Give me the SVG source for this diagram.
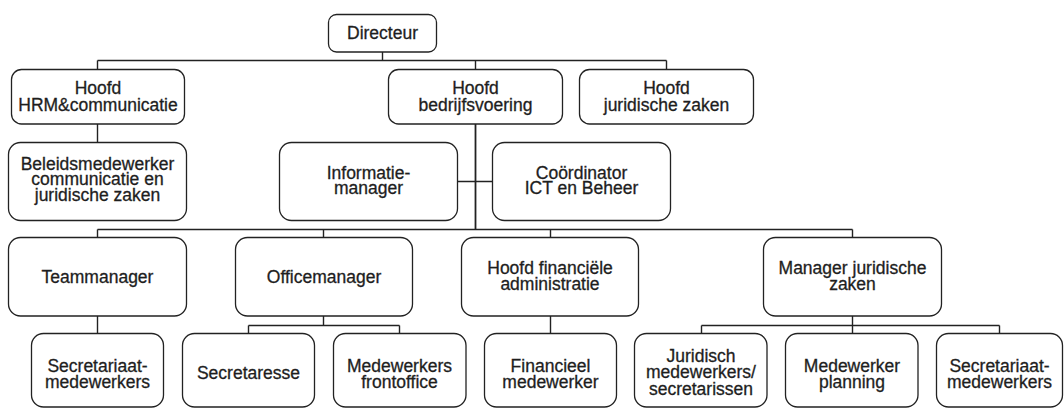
<svg xmlns="http://www.w3.org/2000/svg" width="1064" height="408" viewBox="0 0 1064 408">
  <style>
    .box { fill: #ffffff; stroke: #222222; stroke-width: 1.3; }
    .lbl { font-family: "Liberation Sans", Arial, sans-serif; font-size: 17.5px; fill: #1e1e1e; stroke: #1e1e1e; stroke-width: 0.3; text-anchor: middle; }
    .conn { fill: none; stroke: #222222; stroke-width: 1.4; }
  </style>
  <rect width="1064" height="408" fill="#ffffff"/>

  <g id="connectors" class="conn">
    <path d="M382.5 52 V60.5 M97.5 60.5 H666.5 M97.5 60.5 V69 M475.5 60.5 V69 M666.5 60.5 V69"/>
    <path d="M97.5 124 V142"/>
    <path d="M475.5 124 V229.5" stroke-width="1.8"/>
    <path d="M457 181.5 H492"/>
    <path d="M97.5 229.5 H852.5 M97.5 229.5 V237 M323.5 229.5 V237 M550.5 229.5 V237 M852.5 229.5 V237"/>
    <path d="M97.5 316 V333"/>
    <path d="M323.5 316 V325.5 M248.5 325.5 H399.5 M248.5 325.5 V333 M399.5 325.5 V333"/>
    <path d="M550.5 316 V333"/>
    <path d="M852.5 316 V325.5 M701.5 325.5 H999.5 M701.5 325.5 V333 M852.5 325.5 V333 M999.5 325.5 V333"/>
  </g>

  <g id="directeur">
    <rect class="box" x="328.5" y="14.5" width="108" height="37.5" rx="8"/>
    <text class="lbl" x="382.5" y="39">Directeur</text>
  </g>

  <g id="hoofd-hrm">
    <rect class="box" x="11.5" y="69.5" width="173" height="54.5" rx="10"/>
    <text class="lbl" x="98" y="94">Hoofd</text>
    <text class="lbl" x="98" y="111">HRM&amp;communicatie</text>
  </g>

  <g id="hoofd-bedrijfsvoering">
    <rect class="box" x="388.5" y="69.5" width="174" height="54.5" rx="10"/>
    <text class="lbl" x="475.5" y="94">Hoofd</text>
    <text class="lbl" x="475.5" y="111">bedrijfsvoering</text>
  </g>

  <g id="hoofd-juridische-zaken">
    <rect class="box" x="579.5" y="69.5" width="174" height="54.5" rx="10"/>
    <text class="lbl" x="666.5" y="94">Hoofd</text>
    <text class="lbl" x="666.5" y="111">juridische zaken</text>
  </g>

  <g id="beleidsmedewerker">
    <rect class="box" x="8.5" y="142.5" width="178" height="78" rx="12"/>
    <text class="lbl" x="97.5" y="169.5">Beleidsmedewerker</text>
    <text class="lbl" x="97.5" y="185">communicatie en</text>
    <text class="lbl" x="97.5" y="200.5">juridische zaken</text>
  </g>

  <g id="informatiemanager">
    <rect class="box" x="279.5" y="142.5" width="178" height="78" rx="12"/>
    <text class="lbl" x="368.5" y="178.5">Informatie-</text>
    <text class="lbl" x="368.5" y="194">manager</text>
  </g>

  <g id="coordinator-ict">
    <rect class="box" x="492.5" y="142.5" width="178" height="78" rx="12"/>
    <text class="lbl" x="581.5" y="178.5">Coördinator</text>
    <text class="lbl" x="581.5" y="194">ICT en Beheer</text>
  </g>

  <g id="teammanager">
    <rect class="box" x="8.5" y="237.5" width="178" height="78.5" rx="12"/>
    <text class="lbl" x="97.5" y="283">Teammanager</text>
  </g>

  <g id="officemanager">
    <rect class="box" x="235.5" y="237.5" width="177" height="78.5" rx="12"/>
    <text class="lbl" x="324" y="283">Officemanager</text>
  </g>

  <g id="hoofd-financiele-administratie">
    <rect class="box" x="461.5" y="237.5" width="177" height="78.5" rx="12"/>
    <text class="lbl" x="550" y="274">Hoofd financiële</text>
    <text class="lbl" x="550" y="289.5">administratie</text>
  </g>

  <g id="manager-juridische-zaken">
    <rect class="box" x="763.5" y="237.5" width="178" height="78.5" rx="12"/>
    <text class="lbl" x="852.5" y="274">Manager juridische</text>
    <text class="lbl" x="852.5" y="289.5">zaken</text>
  </g>

  <g id="secretariaatmedewerkers-team">
    <rect class="box" x="31.5" y="333.5" width="132" height="73.5" rx="12"/>
    <text class="lbl" x="97.5" y="371.5">Secretariaat-</text>
    <text class="lbl" x="97.5" y="387.5">medewerkers</text>
  </g>

  <g id="secretaresse">
    <rect class="box" x="182.5" y="333.5" width="132" height="73.5" rx="12"/>
    <text class="lbl" x="248.5" y="378.5">Secretaresse</text>
  </g>

  <g id="medewerkers-frontoffice">
    <rect class="box" x="333.5" y="333.5" width="132.5" height="73.5" rx="12"/>
    <text class="lbl" x="399.5" y="371.5">Medewerkers</text>
    <text class="lbl" x="399.5" y="387.5">frontoffice</text>
  </g>

  <g id="financieel-medewerker">
    <rect class="box" x="484.5" y="333.5" width="132" height="73.5" rx="12"/>
    <text class="lbl" x="550.5" y="371.5">Financieel</text>
    <text class="lbl" x="550.5" y="387.5">medewerker</text>
  </g>

  <g id="juridisch-medewerkers">
    <rect class="box" x="634.5" y="333.5" width="132.5" height="73.5" rx="12"/>
    <text class="lbl" x="701" y="362">Juridisch</text>
    <text class="lbl" x="701" y="378">medewerkers/</text>
    <text class="lbl" x="701" y="394.5">secretarissen</text>
  </g>

  <g id="medewerker-planning">
    <rect class="box" x="785.5" y="333.5" width="132.5" height="73.5" rx="12"/>
    <text class="lbl" x="852" y="371.5">Medewerker</text>
    <text class="lbl" x="852" y="387.5">planning</text>
  </g>

  <g id="secretariaatmedewerkers-juridisch">
    <rect class="box" x="936.5" y="333.5" width="126" height="73.5" rx="12"/>
    <text class="lbl" x="999.5" y="371.5">Secretariaat-</text>
    <text class="lbl" x="999.5" y="387.5">medewerkers</text>
  </g>
</svg>
